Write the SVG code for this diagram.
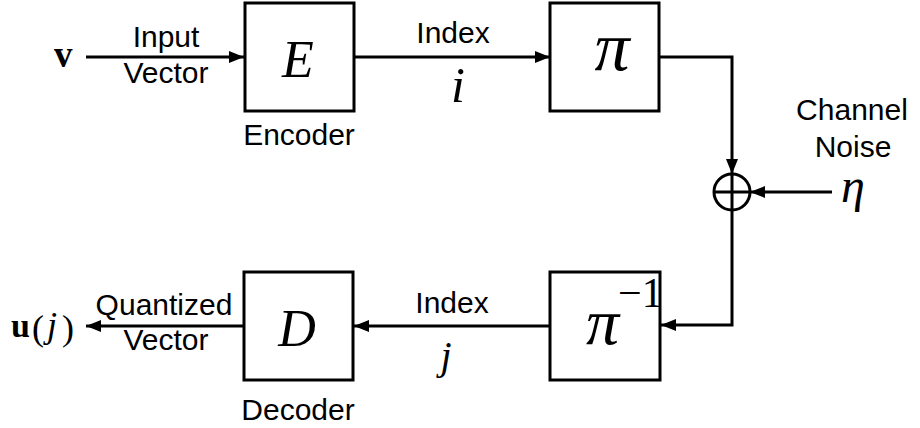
<svg xmlns="http://www.w3.org/2000/svg" width="920" height="428" viewBox="0 0 920 428">
<defs>
<marker id="ah" markerUnits="userSpaceOnUse" markerWidth="16" markerHeight="14" refX="15" refY="6" orient="auto">
<path d="M0,0 L15,6 L0,12 Z" fill="#000"/>
</marker>
<style>
.box{fill:#fff;stroke:#000;stroke-width:3}
.ln{fill:none;stroke:#000;stroke-width:3}
.lbl{font-family:"Liberation Sans",Arial,sans-serif;font-size:30px;fill:#000;text-anchor:middle}
.math{font-family:"Liberation Serif","Times New Roman",serif;font-style:italic;fill:#000;text-anchor:middle}
.bold{font-family:"Liberation Serif","Times New Roman",serif;font-weight:bold;fill:#000}
.rm{font-family:"Liberation Serif","Times New Roman",serif;fill:#000;text-anchor:middle}
</style>
</defs>
<rect width="920" height="428" fill="#fff"/>
<g id="connectors">
<path class="ln" d="M86,57 H244" marker-end="url(#ah)"/>
<path class="ln" d="M354,57 H550" marker-end="url(#ah)"/>
<path class="ln" d="M659,57 H732 V174" marker-end="url(#ah)"/>
<path class="ln" d="M832,192 H750" marker-end="url(#ah)"/>
<path class="ln" d="M732,210 V325 H661" marker-end="url(#ah)"/>
<path class="ln" d="M549,326 H354" marker-end="url(#ah)"/>
<path class="ln" d="M243,326 H86" marker-end="url(#ah)"/>
<text class="lbl" x="166" y="47">Input</text>
<text class="lbl" x="166" y="83">Vector</text>
<text class="lbl" x="453" y="43">Index</text>
<text class="math" x="458" y="102" font-size="50">i</text>
<text class="lbl" x="452" y="313">Index</text>
<text class="math" x="446" y="369" font-size="40">j</text>
<text class="lbl" x="164" y="315">Quantized</text>
<text class="lbl" x="166" y="350">Vector</text>
</g>
<g id="input">
<text class="bold" x="54" y="67" font-size="37">v</text>
</g>
<g id="encoder">
<rect class="box" x="245" y="3" width="109" height="108"/>
<text class="math" x="298" y="77" font-size="52">E</text>
<text class="lbl" x="299" y="145">Encoder</text>
</g>
<g id="permute">
<rect class="box" x="550" y="3" width="109" height="108"/>
<text class="math" x="612" y="70" font-size="70">π</text>
</g>
<g id="sum">
<circle cx="732" cy="192" r="18" fill="#fff" stroke="#000" stroke-width="3"/>
<path class="ln" d="M714,192 H750 M732,174 V210"/>
</g>
<g id="noise">
<text class="lbl" x="852" y="120">Channel</text>
<text class="lbl" x="853" y="157">Noise</text>
<text class="math" x="853" y="202" font-size="48">η</text>
</g>
<g id="inverse">
<rect class="box" x="550" y="272" width="110" height="108"/>
<text font-family="Liberation Serif, Times New Roman, serif" font-style="italic" font-size="66" x="586" y="344" fill="#000">π<tspan x="618" dy="-37" font-size="42" font-style="normal">−1</tspan></text>
</g>
<g id="decoder">
<rect class="box" x="244" y="272" width="109" height="108"/>
<text class="math" x="297" y="346" font-size="52">D</text>
<text class="lbl" x="298" y="420">Decoder</text>
</g>
<g id="output">
<text class="bold" x="11" y="337" font-size="34">u</text>
<text class="rm" x="38" y="340" font-size="36">(</text>
<text class="math" x="52" y="337" font-size="36">j</text>
<text class="rm" x="68" y="340" font-size="36">)</text>
</g>
</svg>
